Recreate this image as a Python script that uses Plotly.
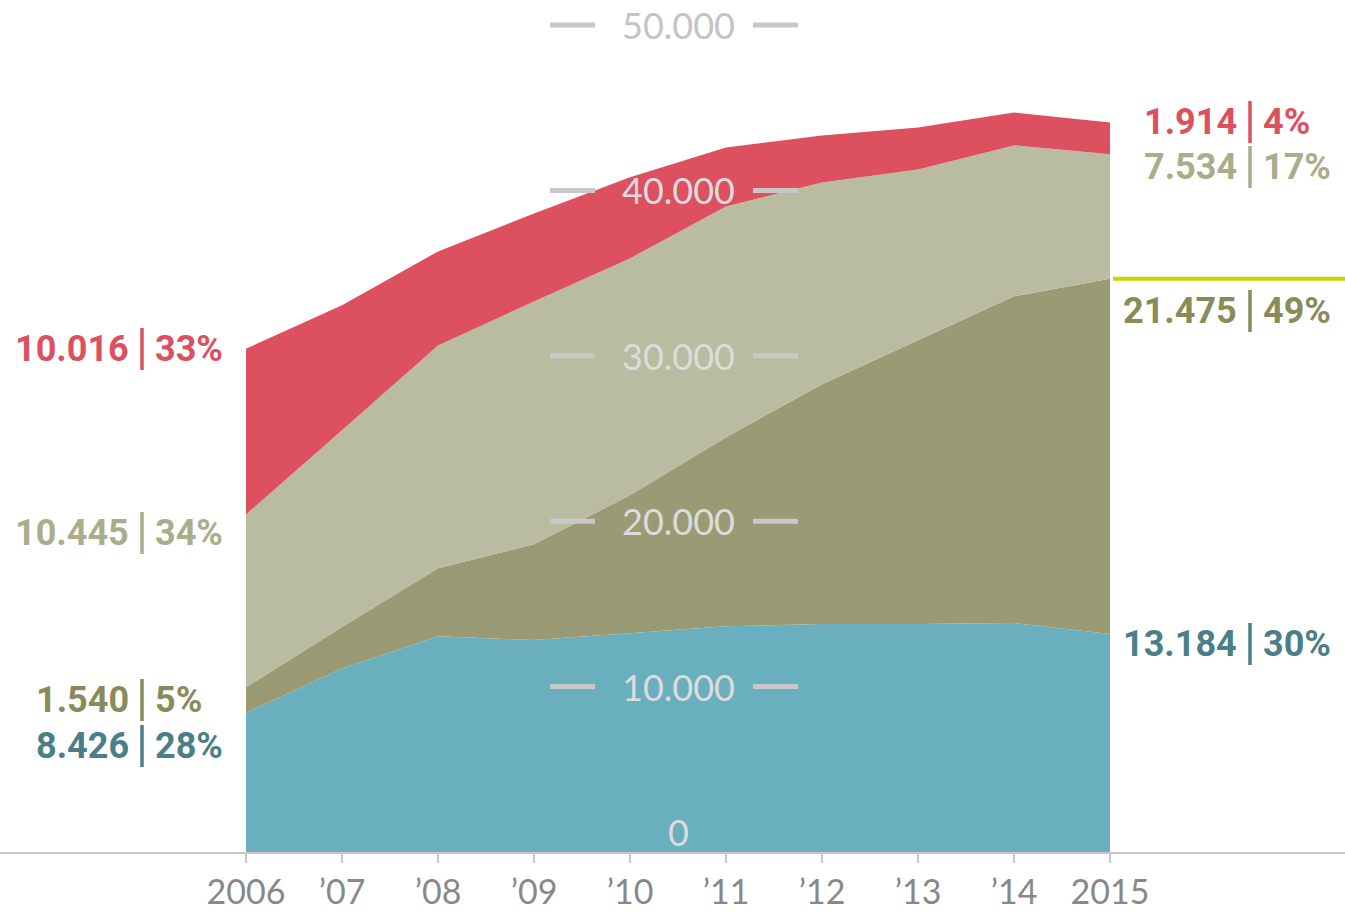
import plotly.graph_objects as go

years = [2006, 2007, 2008, 2009, 2010, 2011, 2012, 2013, 2014, 2015]
year_labels = ["2006", "’07", "’08", "’09", "’10", "’11", "’12", "’13", "’14", "2015"]

blue = [8426, 11100, 13050, 12810, 13230, 13650, 13780, 13780, 13840, 13184]
olive = [1540, 2500, 4110, 5800, 8340, 11430, 14500, 17160, 19760, 21475]
light_olive = [10445, 11900, 13470, 14680, 14320, 13950, 12200, 10330, 9120, 7534]
red = [10016, 7550, 5680, 5320, 4900, 3570, 2840, 2540, 1990, 1914]

y_ticks = [10000, 20000, 30000, 40000, 50000]
y_tick_labels = ["10.000", "20.000", "30.000", "40.000", "50.000"]

left_labels = [("10.016", "33%", 349, "#dc5060"),
               ("10.445", "34%", 533, "#abad8a"),
               ("1.540", "5%", 700, "#8a8b5a"),
               ("8.426", "28%", 746, "#4a7f88")]
right_labels = [("1.914", "4%", 122, "#dc5060"),
                ("7.534", "17%", 167, "#abad8a"),
                ("21.475", "49%", 311, "#8a8b5a"),
                ("13.184", "30%", 644, "#4a7f88")]

W, H = 1345, 913
T, B = 25, 61
PH = H - T - B
YMAX = 50000

def px(x):
    return x / W

def py(y):
    return (852 - y) / PH

series = [("blue", blue, "#6aafbd"), ("olive", olive, "#9a9b74"),
          ("light", light_olive, "#b9bca0"), ("red", red, "#dc5060")]

fig = go.Figure()
for name, vals, col in series:
    fig.add_trace(go.Scatter(x=years, y=vals, stackgroup="one", mode="none",
                             fillcolor=col, name=name, line=dict(width=0),
                             hoverinfo="skip"))

FONT = "Lato"
LFONT = "Roboto"
ann = []
shapes = []
for v, lab in zip(y_ticks, y_tick_labels):
    col = "#c4c4c4" if v == 50000 else "#dcdcdc"
    ann.append(dict(x=px(678), y=v, xref="paper", yref="y", text=lab,
                    showarrow=False, font=dict(family=FONT, size=36, color=col),
                    xanchor="center", yanchor="middle"))
    for x0, x1 in [(550, 595), (753, 798)]:
        shapes.append(dict(type="line", xref="paper", yref="paper", x0=px(x0), x1=px(x1),
                           y0=v / YMAX, y1=v / YMAX, line=dict(color="#c8c8c8", width=5),
                           layer="above"))
ann.append(dict(x=px(678), y=py(832), xref="paper", yref="paper", text="0",
                showarrow=False, font=dict(family=FONT, size=36, color="#dcdcdc"),
                xanchor="center", yanchor="middle"))

def add_label(num, pct, ypix, col, pipe_x):
    ann.append(dict(x=px(pipe_x - 11), y=py(ypix), xref="paper", yref="paper",
                    text="<b>" + num + "</b>", showarrow=False,
                    font=dict(family=LFONT, size=36, color=col),
                    xanchor="right", yanchor="middle"))
    ann.append(dict(x=px(pipe_x + 11), y=py(ypix), xref="paper", yref="paper",
                    text="<b>" + pct + "</b>", showarrow=False,
                    font=dict(family=LFONT, size=36, color=col),
                    xanchor="left", yanchor="middle"))
    shapes.append(dict(type="line", xref="paper", yref="paper",
                       x0=px(pipe_x), x1=px(pipe_x), y0=py(ypix - 21), y1=py(ypix + 21),
                       line=dict(color=col, width=3.5)))

for num, pct, ypix, col in left_labels:
    add_label(num, pct, ypix, col, 142)
for num, pct, ypix, col in right_labels:
    add_label(num, pct, ypix, col, 1250)

top_olive = blue[-1] + olive[-1]
shapes.append(dict(type="line", xref="paper", yref="y", x0=px(1113), x1=1,
                   y0=top_olive, y1=top_olive, line=dict(color="#c8d400", width=4)))

x0 = 2006 - 246 / 96
x1 = 2006 + (W - 246) / 96
fig.update_layout(
    width=W, height=H, margin=dict(l=0, r=0, t=T, b=B),
    paper_bgcolor="white", plot_bgcolor="white", showlegend=False,
    xaxis=dict(range=[x0, x1], tickvals=years, ticktext=year_labels,
               showgrid=False, zeroline=False, showline=True, linecolor="#c8c8c8",
               linewidth=2, ticks="outside", ticklen=9, tickwidth=2, tickcolor="#c8c8c8",
               tickfont=dict(family=FONT, size=34, color="#888888")),
    yaxis=dict(range=[0, YMAX], visible=False, showgrid=False, zeroline=False),
    annotations=ann, shapes=shapes,
)
fig.write_html("out.html", config={"displayModeBar": False},
               post_script="document.body.style.margin='0';document.body.style.padding='0';document.body.style.overflow='hidden';")
